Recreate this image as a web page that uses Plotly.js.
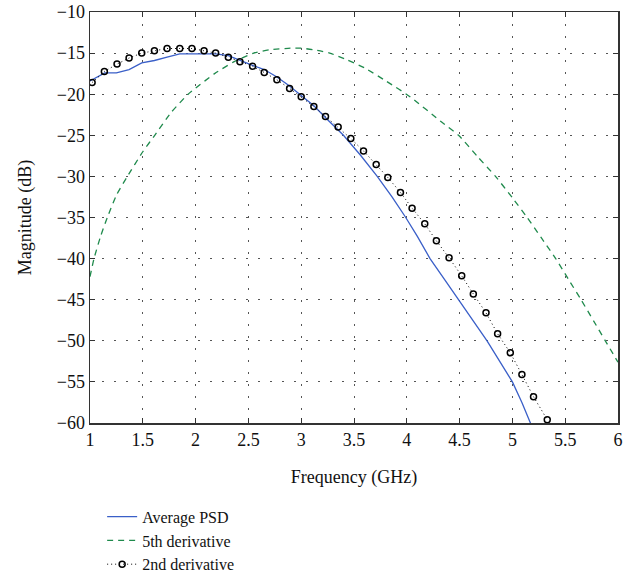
<!DOCTYPE html>
<html>
<head>
<meta charset="utf-8">
<script src="https://cdn.plot.ly/plotly-3.0.1.min.js"></script>
<style>html,body{margin:0;padding:0;background:#fff;}#chart{width:635px;height:575px;}</style>
</head>
<body>
<div id="chart"></div>
<script>
// Average PSD (blue solid)
const psdFreq = [1.0, 1.14, 1.25, 1.37, 1.49, 1.61, 1.73, 1.85, 1.96, 2.08, 2.19, 2.31, 2.42, 2.54, 2.65, 2.77, 2.88, 3.0, 3.12, 3.25, 3.4, 3.56, 3.72, 3.86, 3.99, 4.1, 4.22, 4.36, 4.49, 4.62, 4.76, 4.88, 5.0, 5.09, 5.17, 5.19];
const psdMag  = [-18.4, -17.4, -17.4, -17.0, -16.2, -15.9, -15.5, -15.1, -15.1, -15.1, -15.1, -15.3, -15.9, -16.5, -17.0, -17.9, -18.9, -20.1, -21.4, -23.1, -25.0, -27.4, -30.0, -32.5, -35.0, -37.3, -40.0, -42.6, -45.0, -47.4, -50.0, -52.5, -55.0, -57.5, -60.0, -60.6];

// 5th derivative (green dashed)
const d5Freq = [1.0, 1.038, 1.1, 1.164, 1.25, 1.354, 1.5, 1.613, 1.77, 1.929, 2.0, 2.18, 2.371, 2.55, 2.7, 2.9, 3.0, 3.12, 3.27, 3.43, 3.6, 3.81, 4.03, 4.32, 4.49, 4.67, 4.84, 5.0, 5.14, 5.27, 5.41, 5.53, 5.65, 5.77, 5.88, 6.0];
const d5Mag  = [-42.2, -40.0, -37.3, -35.0, -32.3, -30.0, -27.0, -25.0, -22.2, -20.0, -19.26, -17.5, -16.0, -15.0, -14.6, -14.4, -14.4, -14.6, -15.0, -15.8, -16.8, -18.45, -20.3, -23.3, -25.0, -27.6, -30.0, -32.6, -35.0, -37.4, -40.0, -42.5, -45.0, -47.6, -50.0, -52.6];

// 2nd derivative (black dotted with open circles)
const d2Freq = [1.02, 1.136, 1.256, 1.37, 1.49, 1.61, 1.73, 1.85, 1.965, 2.08, 2.19, 2.31, 2.42, 2.54, 2.65, 2.77, 2.89, 3.0, 3.12, 3.23, 3.35, 3.47, 3.59, 3.71, 3.82, 3.94, 4.05, 4.17, 4.28, 4.40, 4.52, 4.63, 4.75, 4.86, 4.98, 5.09, 5.2, 5.33];
const d2Mag  = [-18.58, -17.24, -16.34, -15.6, -15.0, -14.72, -14.44, -14.44, -14.44, -14.72, -15.0, -15.5, -16.06, -16.6, -17.36, -18.25, -19.3, -20.3, -21.5, -22.7, -24.0, -25.4, -26.9, -28.55, -30.13, -31.95, -33.86, -35.77, -37.84, -39.9, -42.1, -44.3, -46.6, -49.15, -51.46, -54.1, -56.8, -59.6];

const xTicks = [1, 1.5, 2, 2.5, 3, 3.5, 4, 4.5, 5, 5.5, 6];
const yTicks = [-10, -15, -20, -25, -30, -35, -40, -45, -50, -55, -60];

const serif = "Liberation Serif";

const traces = [
  {x: psdFreq, y: psdMag, mode: 'lines', name: 'Average PSD',
   line: {color: '#3a5fc8', width: 1.3}},
  {x: d5Freq, y: d5Mag, mode: 'lines', name: '5th derivative',
   line: {color: '#1f8a4c', width: 1.3, dash: '6px,5px', shape: 'spline', smoothing: 0.6}},
  {x: d2Freq, y: d2Mag, mode: 'lines+markers', name: '2nd derivative',
   line: {color: '#000', width: 1, dash: '1px,3px'},
   marker: {symbol: 'circle-open', size: 6, color: '#000', line: {width: 1.5, color: '#000'}}}
];

const axisCommon = {
  showline: true, linecolor: '#333', linewidth: 1.5, mirror: 'ticks',
  ticks: 'inside', ticklen: 5, tickcolor: '#333', tickwidth: 1,
  showgrid: true, gridcolor: '#555', gridwidth: 1, griddash: '1.5px,10.5px',
  zeroline: false, automargin: false, tickfont: {family: serif, size: 18, color: '#111'}
};

const layout = {
  width: 635, height: 575,
  margin: {l: 90, r: 17, t: 12, b: 152, autoexpand: false},
  paper_bgcolor: '#fff', plot_bgcolor: '#fff',
  xaxis: Object.assign({}, axisCommon, {range: [1, 6], tickvals: xTicks, ticktext: xTicks.map(String),
    title: {text: 'Frequency (GHz)', font: {family: serif, size: 18, color: '#111'}, standoff: 21}}),
  yaxis: Object.assign({}, axisCommon, {range: [-60, -10], tickvals: yTicks,
    title: {text: 'Magnitude (dB)', font: {family: serif, size: 18, color: '#111'}, standoff: 20}}),
  showlegend: true,
  legend: {x: 0.023, y: 0.131, xref: 'paper', yref: 'container', xanchor: 'left', yanchor: 'top', orientation: 'v',
    font: {family: serif, size: 16, color: '#111'}, bgcolor: 'rgba(0,0,0,0)', tracegroupgap: 0}
};

Plotly.newPlot('chart', traces, layout, {displayModeBar: false, staticPlot: true});
</script>
</body>
</html>
